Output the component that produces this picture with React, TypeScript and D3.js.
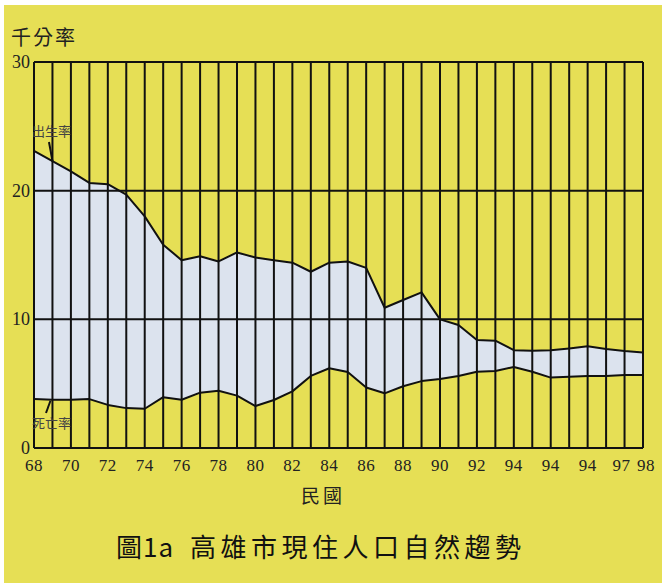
import React, { useEffect, useRef } from 'react';
import * as d3 from 'd3';

// 34 equally spaced slots along the x axis (民國 68 ... 98)
const birthRate = [
    23.1, 22.3, 21.5, 20.6, 20.5, 19.7, 18.0, 15.8, 14.6, 14.9, 14.5, 15.2,
    14.8, 14.6, 14.4, 13.7, 14.4, 14.5, 14.0, 10.9, 11.5, 12.1, 10.0, 9.56,
    8.4, 8.34, 7.6, 7.56, 7.6, 7.74, 7.9, 7.7, 7.54, 7.43,
];
const deathRate = [
    3.8, 3.75, 3.75, 3.8, 3.35, 3.1, 3.05, 3.95, 3.75, 4.3, 4.45, 4.07,
    3.26, 3.73, 4.4, 5.6, 6.2, 5.9, 4.7, 4.25, 4.8, 5.2, 5.36, 5.6,
    5.93, 5.98, 6.3, 5.93, 5.47, 5.54, 5.6, 5.6, 5.67, 5.67,
];
const xTickIndex = [0, 2, 4, 6, 8, 10, 12, 14, 16, 18, 20, 22, 24, 26, 28, 30, 32, 33];
const xTickLabels = ['68', '70', '72', '74', '76', '78', '80', '82', '84', '86', '88', '90', '92', '94', '94', '94', '97', '98'];
const yTicks = [0, 10, 20, 30];

const W = 662;
const H = 583;
const YELLOW = '#e6df55';
const CJK = '"Noto Sans CJK TC", "Noto Sans CJK SC", sans-serif';
const SERIF = '"Liberation Serif", "DejaVu Serif", serif';

export default function App() {
    const svgRef = useRef<SVGSVGElement>(null);

    useEffect(() => {
        if (!svgRef.current) return;
        const svg = d3.select(svgRef.current);
        svg.selectAll('*').remove();

        const left = 34, right = 643, top = 62, bottom = 448;
        const x = d3.scaleLinear().domain([0, birthRate.length - 1]).range([left, right]);
        const y = d3.scaleLinear().domain([0, 30]).range([bottom, top]);

        svg.append('rect').attr('width', W).attr('height', H).attr('fill', '#fff');
        svg.append('rect').attr('x', 4).attr('y', 5).attr('width', W - 4).attr('height', H - 5).attr('fill', YELLOW);

        // band between birth and death rate
        const area = d3.area<number>()
            .x((_, i) => x(i))
            .y0((_, i) => y(deathRate[i]))
            .y1(d => y(d));
        svg.append('path').datum(birthRate).attr('d', area).attr('fill', '#dce3ee');

        // grid
        const grid = svg.append('g').attr('stroke', '#111').attr('stroke-width', 2);
        grid.selectAll('line.v')
            .data(d3.range(birthRate.length))
            .join('line')
            .attr('x1', d => x(d)).attr('x2', d => x(d))
            .attr('y1', top).attr('y2', bottom);
        grid.selectAll('line.h')
            .data(yTicks)
            .join('line')
            .attr('class', 'h')
            .attr('x1', left).attr('x2', right)
            .attr('y1', d => y(d)).attr('y2', d => y(d));

        const line = d3.line<number>().x((_, i) => x(i)).y(d => y(d));
        svg.append('path').datum(birthRate).attr('d', line)
            .attr('fill', 'none').attr('stroke', '#111').attr('stroke-width', 2).attr('stroke-linejoin', 'round');
        svg.append('path').datum(deathRate).attr('d', line)
            .attr('fill', 'none').attr('stroke', '#111').attr('stroke-width', 2).attr('stroke-linejoin', 'round');

        // y tick labels
        svg.append('g').selectAll('text')
            .data(yTicks)
            .join('text')
            .attr('x', left - 4)
            .attr('y', d => y(d) + 6)
            .attr('text-anchor', 'end')
            .style('font-family', SERIF)
            .style('font-size', '18px')
            .attr('fill', '#222')
            .text(d => d);

        // x tick labels (the last two sit close, so pull them apart a bit)
        const n = xTickIndex.length;
        svg.append('g').selectAll('text')
            .data(xTickIndex)
            .join('text')
            .attr('x', (d, i) => x(d) + (i === n - 2 ? -3 : i === n - 1 ? 3 : 0))
            .attr('y', bottom + 23)
            .attr('text-anchor', 'middle')
            .style('font-family', SERIF)
            .style('font-size', '17px')
            .style('letter-spacing', '0.5px')
            .attr('fill', '#222')
            .text((_, i) => xTickLabels[i]);

        svg.append('text')
            .attr('x', 11).attr('y', 45)
            .style('font-family', CJK).style('font-size', '20px').style('letter-spacing', '2px')
            .attr('fill', '#222')
            .text('千分率');

        svg.append('text')
            .attr('x', 301).attr('y', 503)
            .style('font-family', CJK).style('font-size', '19px').style('letter-spacing', '3px')
            .attr('fill', '#222')
            .text('民國');

        // series annotations
        svg.append('text')
            .attr('x', 32).attr('y', 136)
            .style('font-family', CJK).style('font-size', '13px')
            .attr('fill', '#444')
            .text('出生率');
        svg.append('line')
            .attr('x1', x(0) + 15).attr('y1', 142).attr('x2', x(1)).attr('y2', y(birthRate[1]))
            .attr('stroke', '#111').attr('stroke-width', 2);
        svg.append('text')
            .attr('x', 32).attr('y', 428)
            .style('font-family', CJK).style('font-size', '13px')
            .attr('fill', '#444')
            .text('死亡率');
        svg.append('line')
            .attr('x1', x(1) - 2).attr('y1', y(deathRate[1]) + 1).attr('x2', 46).attr('y2', 413)
            .attr('stroke', '#111').attr('stroke-width', 2);

        const title = svg.append('text')
            .attr('x', 116).attr('y', 557)
            .style('font-family', CJK).style('font-size', '26px')
            .attr('fill', '#111');
        title.append('tspan').style('letter-spacing', '1px').text('圖1a');
        title.append('tspan').attr('dx', 16).style('letter-spacing', '4.5px').text('高雄市現住人口自然趨勢');
    }, []);

    return (
        <svg
            ref={svgRef}
            width={W}
            height={H}
            style={{ position: 'absolute', left: 0, top: 0, display: 'block' }}
        />
    );
}
